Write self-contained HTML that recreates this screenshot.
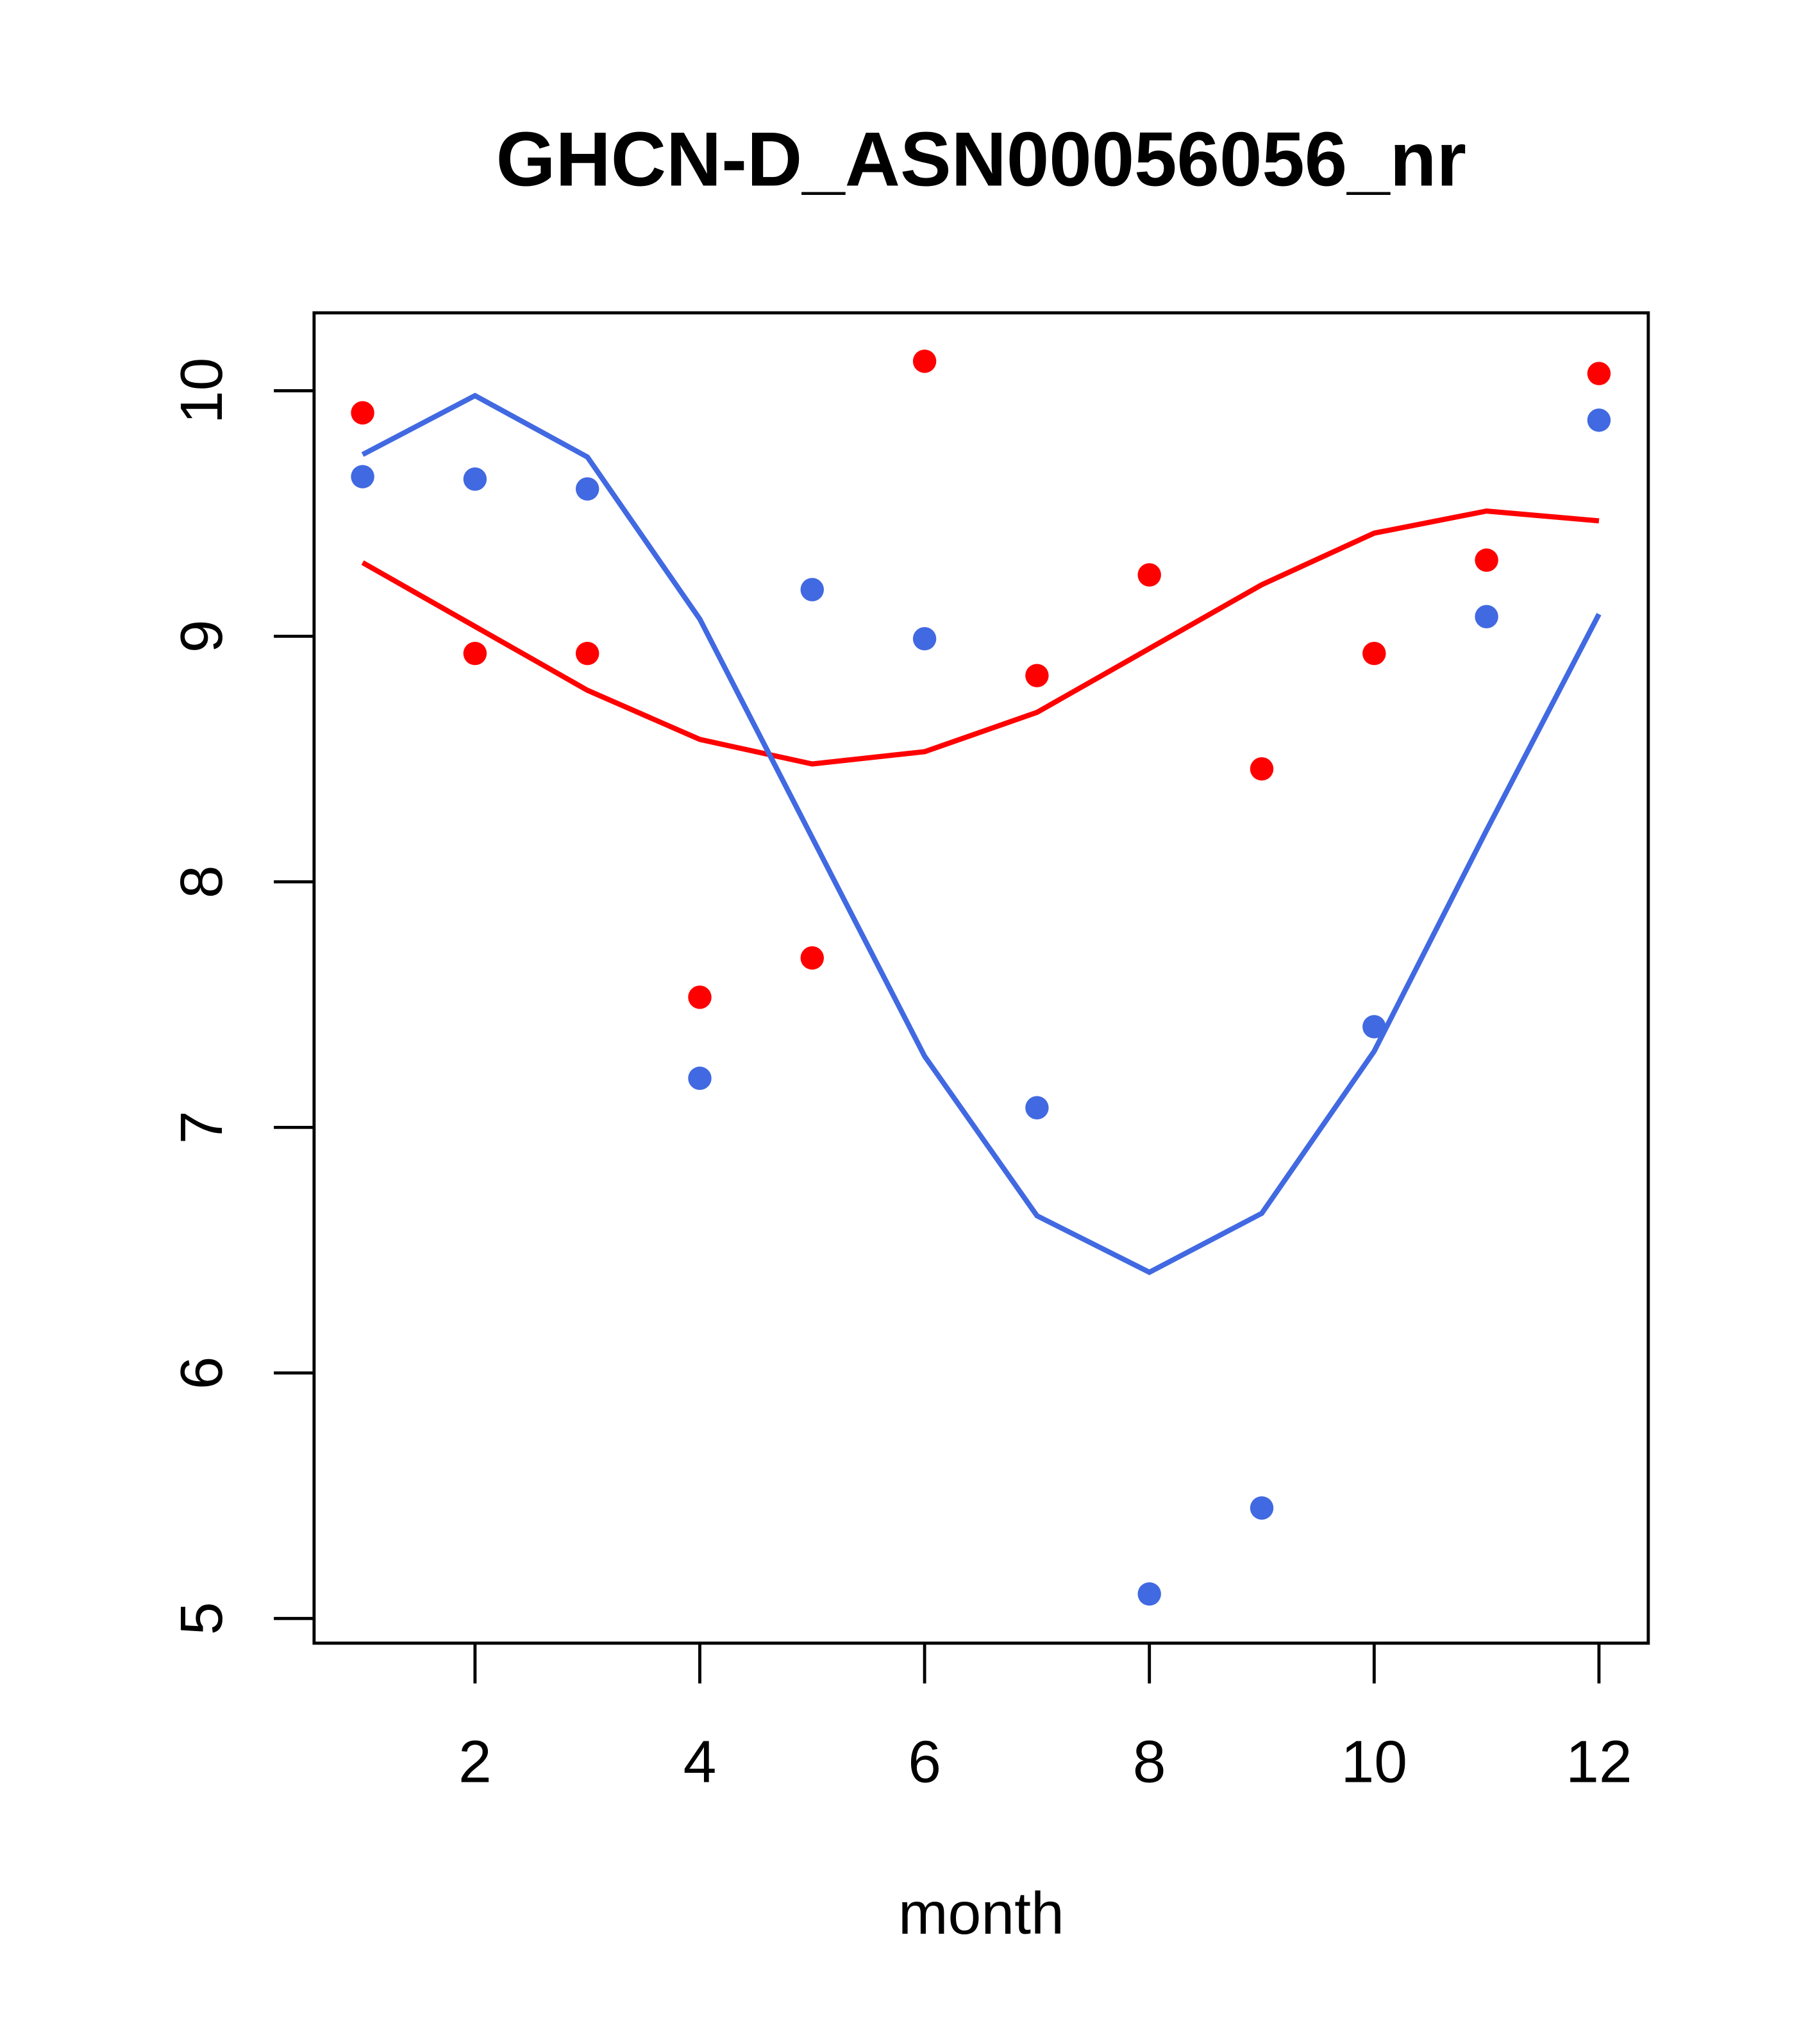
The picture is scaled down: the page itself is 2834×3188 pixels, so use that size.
<!DOCTYPE html>
<html><head><meta charset="utf-8"><style>
html,body{margin:0;padding:0;background:#fff;}
svg{display:block;}
text{font-family:"Liberation Sans",Arial,sans-serif;}
</style></head><body>
<svg id="chart" width="2834" height="3188" viewBox="0 0 1400 1574.8" xmlns="http://www.w3.org/2000/svg">
<rect width="1400" height="1574.8" fill="#fff"/>
<text x="756" y="143" font-size="59" font-weight="bold" text-anchor="middle">GHCN-D_ASN00056056_nr</text>
<rect x="242" y="241" width="1028" height="1025" fill="none" stroke="#000" stroke-width="2.4"/>
<text x="756" y="1490" font-size="46" text-anchor="middle">month</text>
<g id="g"></g>
</svg>
<script>
const months=[1,2,3,4,5,6,7,8,9,10,11,12];
const redPoints=[9.91,8.93,8.93,7.53,7.69,10.12,8.84,9.25,8.46,8.93,9.31,10.07];
const bluePoints=[9.65,9.64,9.60,7.20,9.19,8.99,7.08,5.10,5.45,7.41,9.08,9.88];
const redLine=[9.30,9.04,8.78,8.58,8.48,8.53,8.69,8.95,9.21,9.42,9.51,9.47];
const blueLine=[9.74,9.98,9.73,9.07,8.18,7.29,6.64,6.41,6.65,7.31,8.21,9.09];
const xTicks=[2,4,6,8,10,12];
const yTicks=[5,6,7,8,9,10];
const NS="http://www.w3.org/2000/svg";
const g=document.getElementById('g');
function xs(v){return 366+(v-2)*86.6;}
function ys(v){return 301+(10-v)*189.2;}
function mk(t,a){const e=document.createElementNS(NS,t);for(const k in a)e.setAttribute(k,a[k]);g.appendChild(e);return e;}
xTicks.forEach(t=>{
  const l=mk('line',{x1:xs(t),x2:xs(t),y1:1266,y2:1297,stroke:'#000','stroke-width':2.4});
  
  
  const tx=mk('text',{x:xs(t),y:1373,'font-size':46,'text-anchor':'middle'});
  tx.textContent=t;
  
  
});
yTicks.forEach(t=>{
  const l=mk('line',{x1:211,x2:242,y1:ys(t),y2:ys(t),stroke:'#000','stroke-width':2.4});
  
  
  const tx=mk('text',{x:0,y:0,'font-size':46,'text-anchor':'middle',transform:`translate(171,${ys(t)}) rotate(-90)`});
  tx.textContent=t;
  
  
});
function line(vals,color,name){
  const p=mk('polyline',{points:vals.map((v,i)=>xs(months[i])+','+ys(v)).join(' '),fill:'none',stroke:color,'stroke-width':4});
  
  
}
function pts(vals,color,name){
  vals.forEach((v,i)=>{
    const c=mk('circle',{cx:xs(months[i]),cy:ys(v),r:9,fill:color});
    
    
  });
}
line(redLine,'#ff0000','red-line');
line(blueLine,'#4169e1','blue-line');
pts(redPoints,'#ff0000','red-point');
pts(bluePoints,'#4169e1','blue-point');
</script>
</body></html>
